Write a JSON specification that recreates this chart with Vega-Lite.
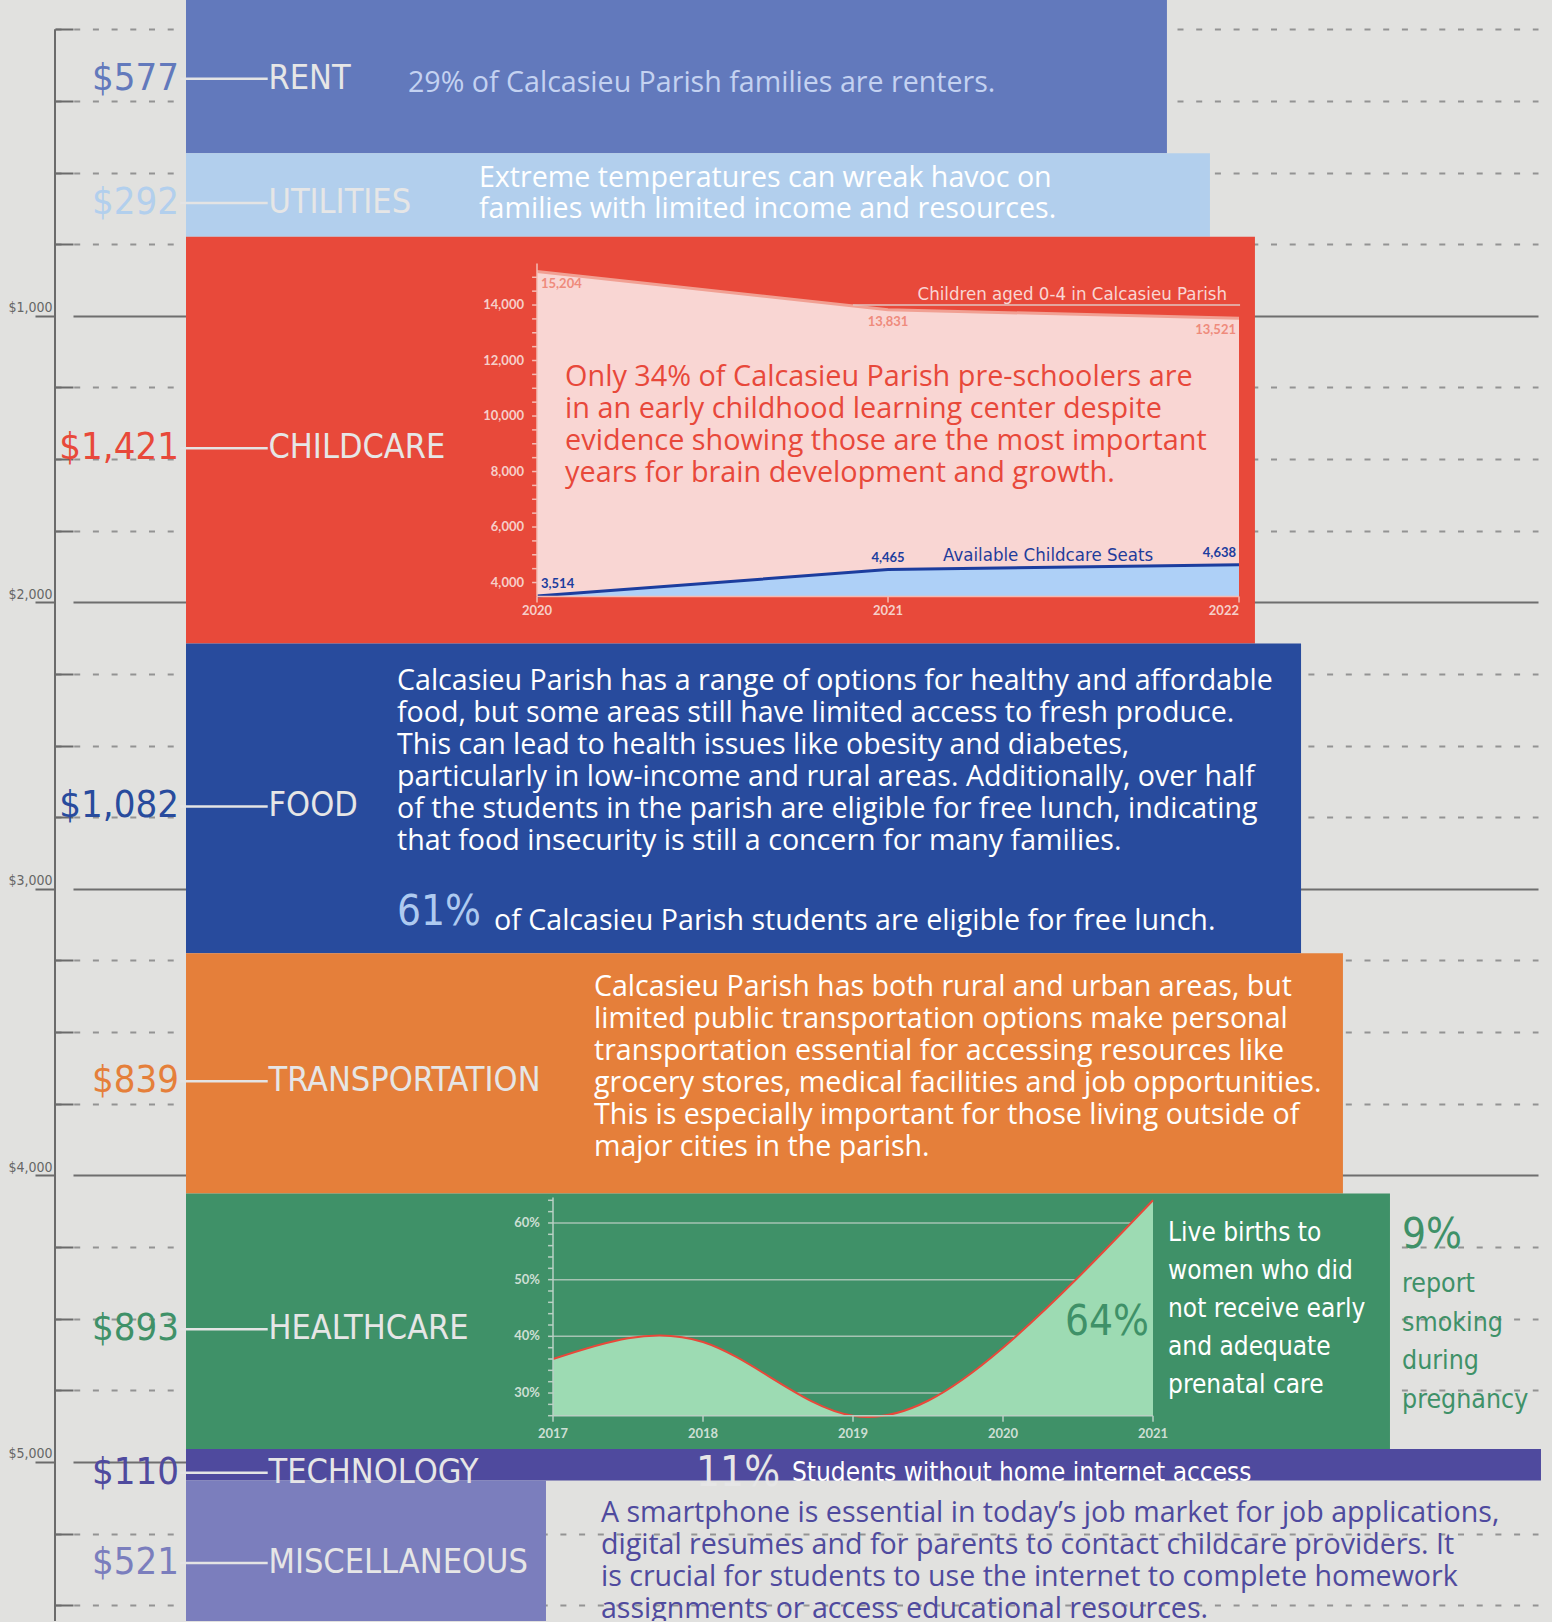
{
  "$schema": "https://vega.github.io/schema/vega-lite/v6.json",
  "width": 1552,
  "height": 1622,
  "autosize": {"type": "fit", "contains": "padding"},
  "padding": 0,
  "background": "#e1e1df",
  "config": {"view": {"stroke": null}},
  "datasets": {
    "costs": [
      {"category": "RENT", "amount": 577, "rank": 1},
      {"category": "UTILITIES", "amount": 292, "rank": 2},
      {"category": "CHILDCARE", "amount": 1421, "rank": 3},
      {"category": "FOOD", "amount": 1082, "rank": 4},
      {"category": "TRANSPORTATION", "amount": 839, "rank": 5},
      {"category": "HEALTHCARE", "amount": 893, "rank": 6},
      {"category": "TECHNOLOGY", "amount": 110, "rank": 7},
      {"category": "MISCELLANEOUS", "amount": 521, "rank": 8}
    ],
    "childcare": [
      {"year": 2020, "series": "children", "value": 15204},
      {"year": 2021, "series": "children", "value": 13831},
      {"year": 2022, "series": "children", "value": 13521},
      {"year": 2020, "series": "seats", "value": 3514},
      {"year": 2021, "series": "seats", "value": 4465},
      {"year": 2022, "series": "seats", "value": 4638}
    ],
    "prenatal": [
      {"year": 2017, "pct": 36},
      {"year": 2018, "pct": 39},
      {"year": 2019, "pct": 26},
      {"year": 2020, "pct": 38},
      {"year": 2021, "pct": 64}
    ]
  },
  "layer": [
    {
      "data": {"values": [{}]},
      "mark": {"type": "rule", "color": "#6b6b6b", "strokeWidth": 2},
      "encoding": {
        "x": {"datum": 0, "type": "quantitative", "scale": {"domain": [0, 1], "range": [55, 1538], "zero": false, "nice": false}, "axis": null},
        "y": {
          "datum": 0, "type": "quantitative",
          "scale": {"domain": [-102.2, 5555.3], "reverse": true, "zero": false, "nice": false},
          "axis": {
            "orient": "left", "offset": -55,
            "values": [0,250,500,750,1000,1250,1500,1750,2000,2250,2500,2750,3000,3250,3500,3750,4000,4250,4500,4750,5000,5250,5500],
            "domain": false, "grid": true,
            "gridColor": {"condition": {"test": "datum.value % 1000 === 0 && datum.value > 0", "value": "#6e6e6e"}, "value": "#939393"},
            "gridDash": {"condition": {"test": "datum.value % 1000 === 0 && datum.value > 0", "value": [0, 18, 3000, 1]}, "value": [6, 12.7]},
            "gridWidth": 2,
            "tickSize": {"condition": {"test": "datum.value % 1000 === 0 && datum.value > 0", "value": 20}, "value": -18},
            "tickColor": "#6b6b6b", "tickWidth": 2,
            "labelExpr": "datum.value % 1000 === 0 && datum.value > 0 ? '$' + format(datum.value, ',') : ''",
            "labelFont": "DejaVu Sans Condensed, sans-serif",
            "labelFontSize": 14, "labelColor": "#666666",
            "labelPadding": -17, "labelBaseline": "alphabetic", "labelOffset": -4,
            "labelOverlap": false, "labelBound": false, "title": null, "zindex": 0
          }
        },
        "y2": {"datum": 5555.3}
      }
    },
    {
      "data": {"name": "costs"},
      "transform": [
        {"stack": "amount", "groupby": [], "sort": [{"field": "rank", "order": "ascending"}], "as": ["cum0", "cum1"]},
        {"calculate": "(datum.cum0 + datum.cum1) / 2", "as": "mid"}
      ],
      "layer": [
        {"transform": [{"filter": "datum.category === 'RENT'"}], "mark": {"type": "bar", "color": "#6279bc", "clip": true},
         "encoding": {"x": {"datum": 11.985, "type": "quantitative", "scale": {"domain": [0, 100], "zero": false, "nice": false}, "axis": null}, "x2": {"datum": 75.19},
                      "y": {"field": "cum0", "type": "quantitative", "scale": {"domain": [41.55, 5705], "reverse": true, "zero": false, "nice": false}, "axis": null}, "y2": {"field": "cum1"}}},
        {"transform": [{"filter": "datum.category === 'UTILITIES'"}], "mark": {"type": "bar", "color": "#b2cfed", "clip": true},
         "encoding": {"x": {"datum": 11.985, "type": "quantitative", "scale": {"domain": [0, 100], "zero": false, "nice": false}, "axis": null}, "x2": {"datum": 77.96},
                      "y": {"field": "cum0", "type": "quantitative", "scale": {"domain": [41.55, 5705], "reverse": true, "zero": false, "nice": false}, "axis": null}, "y2": {"field": "cum1"}}},
        {"transform": [{"filter": "datum.category === 'CHILDCARE'"}], "mark": {"type": "bar", "color": "#e8493a", "clip": true},
         "encoding": {"x": {"datum": 11.985, "type": "quantitative", "scale": {"domain": [0, 100], "zero": false, "nice": false}, "axis": null}, "x2": {"datum": 80.86},
                      "y": {"field": "cum0", "type": "quantitative", "scale": {"domain": [41.55, 5705], "reverse": true, "zero": false, "nice": false}, "axis": null}, "y2": {"field": "cum1"}}},
        {"transform": [{"filter": "datum.category === 'FOOD'"}], "mark": {"type": "bar", "color": "#284b9d", "clip": true},
         "encoding": {"x": {"datum": 11.985, "type": "quantitative", "scale": {"domain": [0, 100], "zero": false, "nice": false}, "axis": null}, "x2": {"datum": 83.83},
                      "y": {"field": "cum0", "type": "quantitative", "scale": {"domain": [41.55, 5705], "reverse": true, "zero": false, "nice": false}, "axis": null}, "y2": {"field": "cum1"}}},
        {"transform": [{"filter": "datum.category === 'TRANSPORTATION'"}], "mark": {"type": "bar", "color": "#e57f3a", "clip": true},
         "encoding": {"x": {"datum": 11.985, "type": "quantitative", "scale": {"domain": [0, 100], "zero": false, "nice": false}, "axis": null}, "x2": {"datum": 86.53},
                      "y": {"field": "cum0", "type": "quantitative", "scale": {"domain": [41.55, 5705], "reverse": true, "zero": false, "nice": false}, "axis": null}, "y2": {"field": "cum1"}}},
        {"transform": [{"filter": "datum.category === 'HEALTHCARE'"}], "mark": {"type": "bar", "color": "#3f9168", "clip": true},
         "encoding": {"x": {"datum": 11.985, "type": "quantitative", "scale": {"domain": [0, 100], "zero": false, "nice": false}, "axis": null}, "x2": {"datum": 89.56},
                      "y": {"field": "cum0", "type": "quantitative", "scale": {"domain": [41.55, 5705], "reverse": true, "zero": false, "nice": false}, "axis": null}, "y2": {"field": "cum1"}}},
        {"transform": [{"filter": "datum.category === 'TECHNOLOGY'"}], "mark": {"type": "bar", "color": "#4f4a9e", "clip": true},
         "encoding": {"x": {"datum": 11.985, "type": "quantitative", "scale": {"domain": [0, 100], "zero": false, "nice": false}, "axis": null}, "x2": {"datum": 99.29},
                      "y": {"field": "cum0", "type": "quantitative", "scale": {"domain": [41.55, 5705], "reverse": true, "zero": false, "nice": false}, "axis": null}, "y2": {"field": "cum1"}}},
        {"transform": [{"filter": "datum.category === 'MISCELLANEOUS'"}], "mark": {"type": "bar", "color": "#7b7ebd", "clip": true},
         "encoding": {"x": {"datum": 11.985, "type": "quantitative", "scale": {"domain": [0, 100], "zero": false, "nice": false}, "axis": null}, "x2": {"datum": 35.18},
                      "y": {"field": "cum0", "type": "quantitative", "scale": {"domain": [41.55, 5705], "reverse": true, "zero": false, "nice": false}, "axis": null}, "y2": {"field": "cum1"}}},
        {"mark": {"type": "rule", "color": "#e4e4e4", "strokeWidth": 2.5, "yOffset": 8},
         "encoding": {"x": {"datum": 11.6, "type": "quantitative", "scale": {"domain": [0, 100], "zero": false, "nice": false}, "axis": null}, "x2": {"datum": 17.25},
                      "y": {"field": "mid", "type": "quantitative", "scale": {"domain": [41.55, 5705], "reverse": true, "zero": false, "nice": false}, "axis": null}}},
        {"mark": {"type": "text", "align": "right", "baseline": "middle", "font": "DejaVu Sans Condensed, sans-serif", "fontSize": 38, "yOffset": 8},
         "encoding": {"x": {"datum": 11.53, "type": "quantitative", "scale": {"domain": [0, 100], "zero": false, "nice": false}, "axis": null},
                      "y": {"field": "mid", "type": "quantitative", "scale": {"domain": [41.55, 5705], "reverse": true, "zero": false, "nice": false}, "axis": null},
                      "text": {"field": "amount", "type": "quantitative", "format": "$,"},
                      "color": {"field": "category", "type": "nominal", "legend": null,
                                "scale": {"domain": ["RENT","UTILITIES","CHILDCARE","FOOD","TRANSPORTATION","HEALTHCARE","TECHNOLOGY","MISCELLANEOUS"],
                                          "range": ["#6279bc","#b2cfed","#e8493a","#284b9d","#e57f3a","#3f9168","#4f4a9e","#7b7ebd"]}}}},
        {"mark": {"type": "text", "align": "left", "baseline": "middle", "font": "DejaVu Sans Condensed, sans-serif", "fontSize": 34, "color": "#e6e6e6", "yOffset": 8},
         "encoding": {"x": {"datum": 17.3, "type": "quantitative", "scale": {"domain": [0, 100], "zero": false, "nice": false}, "axis": null},
                      "y": {"field": "mid", "type": "quantitative", "scale": {"domain": [41.55, 5705], "reverse": true, "zero": false, "nice": false}, "axis": null},
                      "text": {"field": "category"}}},
        {"data": {"values": [{}]}, "mark": {"type": "text", "text": "29% of Calcasieu Parish families are renters.", "align": "left", "baseline": "middle", "font": "Open Sans, Lato, sans-serif", "fontSize": 28.6, "color": "#c4d2f1"},
         "encoding": {"x": {"datum": 26.29, "type": "quantitative", "scale": {"domain": [0, 100], "zero": false, "nice": false}, "axis": null},
                      "y": {"datum": 331.4, "type": "quantitative", "scale": {"domain": [41.55, 5705], "reverse": true, "zero": false, "nice": false}, "axis": null}}},
        {"data": {"values": [{}]}, "mark": {"type": "text", "text": ["Extreme temperatures can wreak havoc on", "families with limited income and resources."], "align": "left", "baseline": "middle", "font": "Open Sans, Lato, sans-serif", "fontSize": 28.6, "lineHeight": 31, "color": "#ffffff"},
         "encoding": {"x": {"datum": 30.86, "type": "quantitative", "scale": {"domain": [0, 100], "zero": false, "nice": false}, "axis": null},
                      "y": {"datum": 663.1, "type": "quantitative", "scale": {"domain": [41.55, 5705], "reverse": true, "zero": false, "nice": false}, "axis": null}}},
        {"data": {"values": [{}]}, "mark": {"type": "text", "text": ["Calcasieu Parish has a range of options for healthy and affordable", "food, but some areas still have limited access to fresh produce.", "This can lead to health issues like obesity and diabetes,", "particularly in low-income and rural areas. Additionally, over half", "of the students in the parish are eligible for free lunch, indicating", "that food insecurity is still a concern for many families."], "align": "left", "baseline": "middle", "font": "Open Sans, Lato, sans-serif", "fontSize": 28.6, "lineHeight": 32, "color": "#ffffff"},
         "encoding": {"x": {"datum": 25.58, "type": "quantitative", "scale": {"domain": [0, 100], "zero": false, "nice": false}, "axis": null},
                      "y": {"datum": 2419.3, "type": "quantitative", "scale": {"domain": [41.55, 5705], "reverse": true, "zero": false, "nice": false}, "axis": null}}},
        {"data": {"values": [{}]}, "mark": {"type": "text", "text": "61%", "align": "left", "baseline": "middle", "font": "DejaVu Sans Condensed, sans-serif", "fontSize": 42, "color": "#aecaf0"},
         "encoding": {"x": {"datum": 25.58, "type": "quantitative", "scale": {"domain": [0, 100], "zero": false, "nice": false}, "axis": null},
                      "y": {"datum": 3229.4, "type": "quantitative", "scale": {"domain": [41.55, 5705], "reverse": true, "zero": false, "nice": false}, "axis": null}}},
        {"data": {"values": [{}]}, "mark": {"type": "text", "text": "of Calcasieu Parish students are eligible for free lunch.", "align": "left", "baseline": "middle", "font": "Open Sans, Lato, sans-serif", "fontSize": 28.6, "color": "#ffffff"},
         "encoding": {"x": {"datum": 31.83, "type": "quantitative", "scale": {"domain": [0, 100], "zero": false, "nice": false}, "axis": null},
                      "y": {"datum": 3260.8, "type": "quantitative", "scale": {"domain": [41.55, 5705], "reverse": true, "zero": false, "nice": false}, "axis": null}}},
        {"data": {"values": [{}]}, "mark": {"type": "text", "text": ["Calcasieu Parish has both rural and urban areas, but", "limited public transportation options make personal", "transportation essential for accessing resources like", "grocery stores, medical facilities and job opportunities.", "This is especially important for those living outside of", "major cities in the parish."], "align": "left", "baseline": "middle", "font": "Open Sans, Lato, sans-serif", "fontSize": 28.6, "lineHeight": 32, "color": "#ffffff"},
         "encoding": {"x": {"datum": 38.27, "type": "quantitative", "scale": {"domain": [0, 100], "zero": false, "nice": false}, "axis": null},
                      "y": {"datum": 3491.3, "type": "quantitative", "scale": {"domain": [41.55, 5705], "reverse": true, "zero": false, "nice": false}, "axis": null}}},
        {"data": {"values": [{}]}, "mark": {"type": "text", "text": ["Live births to", "women who did", "not receive early", "and adequate", "prenatal care"], "align": "left", "baseline": "middle", "font": "DejaVu Sans Condensed, sans-serif", "fontSize": 26, "lineHeight": 38, "color": "#ffffff"},
         "encoding": {"x": {"datum": 75.26, "type": "quantitative", "scale": {"domain": [0, 100], "zero": false, "nice": false}, "axis": null},
                      "y": {"datum": 4350.2, "type": "quantitative", "scale": {"domain": [41.55, 5705], "reverse": true, "zero": false, "nice": false}, "axis": null}}},
        {"data": {"values": [{}]}, "mark": {"type": "text", "text": "9%", "align": "left", "baseline": "middle", "font": "DejaVu Sans Condensed, sans-serif", "fontSize": 42, "color": "#3f9168"},
         "encoding": {"x": {"datum": 90.34, "type": "quantitative", "scale": {"domain": [0, 100], "zero": false, "nice": false}, "axis": null},
                      "y": {"datum": 4357.2, "type": "quantitative", "scale": {"domain": [41.55, 5705], "reverse": true, "zero": false, "nice": false}, "axis": null}}},
        {"data": {"values": [{}]}, "mark": {"type": "text", "text": ["report", "smoking", "during", "pregnancy"], "align": "left", "baseline": "middle", "font": "DejaVu Sans Condensed, sans-serif", "fontSize": 26.5, "lineHeight": 38.5, "color": "#3f9168"},
         "encoding": {"x": {"datum": 90.34, "type": "quantitative", "scale": {"domain": [0, 100], "zero": false, "nice": false}, "axis": null},
                      "y": {"datum": 4528.3, "type": "quantitative", "scale": {"domain": [41.55, 5705], "reverse": true, "zero": false, "nice": false}, "axis": null}}},
        {"data": {"values": [{}]}, "mark": {"type": "text", "text": "11%", "align": "left", "baseline": "middle", "font": "DejaVu Sans Condensed, sans-serif", "fontSize": 42, "color": "#e6e6e6"},
         "encoding": {"x": {"datum": 44.85, "type": "quantitative", "scale": {"domain": [0, 100], "zero": false, "nice": false}, "axis": null},
                      "y": {"datum": 5188.2, "type": "quantitative", "scale": {"domain": [41.55, 5705], "reverse": true, "zero": false, "nice": false}, "axis": null}}},
        {"data": {"values": [{}]}, "mark": {"type": "text", "text": "Students without home internet access", "align": "left", "baseline": "middle", "font": "DejaVu Sans Condensed, sans-serif", "fontSize": 26, "color": "#ffffff"},
         "encoding": {"x": {"datum": 51.03, "type": "quantitative", "scale": {"domain": [0, 100], "zero": false, "nice": false}, "axis": null},
                      "y": {"datum": 5188.2, "type": "quantitative", "scale": {"domain": [41.55, 5705], "reverse": true, "zero": false, "nice": false}, "axis": null}}},
        {"data": {"values": [{}]}, "mark": {"type": "text", "text": ["A smartphone is essential in today’s job market for job applications,", "digital resumes and for parents to contact childcare providers. It", "is crucial for students to use the internet to complete homework", "assignments or access educational resources."], "align": "left", "baseline": "middle", "font": "Open Sans, Lato, sans-serif", "fontSize": 28.6, "lineHeight": 32, "color": "#4f4a9e", "clip": true},
         "encoding": {"x": {"datum": 38.72, "type": "quantitative", "scale": {"domain": [0, 100], "zero": false, "nice": false}, "axis": null},
                      "y": {"datum": 5327.9, "type": "quantitative", "scale": {"domain": [41.55, 5705], "reverse": true, "zero": false, "nice": false}, "axis": null}}}
      ]
    },
    {
      "data": {"name": "childcare"},
      "layer": [
        {"transform": [{"filter": "datum.series === 'children'"}],
         "mark": {"type": "area", "color": "#f9d6d3", "opacity": 1, "line": {"color": "#f1a093", "strokeWidth": 3}},
         "encoding": {
           "x": {"field": "year", "type": "quantitative", "scale": {"domain": [2020, 2022], "range": [537, 1239], "zero": false, "nice": false}, "axis": null},
           "y": {"field": "value", "type": "quantitative", "scale": {"domain": [3500, 15500], "range": [596.4, 263.4], "zero": false, "nice": false}, "axis": null},
           "y2": {"datum": 3500}
         }},
        {"transform": [{"filter": "datum.series === 'seats'"}],
         "mark": {"type": "area", "color": "#aed0f7", "opacity": 1, "line": {"color": "#1c3d9e", "strokeWidth": 3}},
         "encoding": {
           "x": {"field": "year", "type": "quantitative", "scale": {"domain": [2020, 2022], "range": [537, 1239], "zero": false, "nice": false}, "axis": null},
           "y": {"field": "value", "type": "quantitative", "scale": {"domain": [3500, 15500], "range": [596.4, 263.4], "zero": false, "nice": false}, "axis": null},
           "y2": {"datum": 3500}}},
        {"mark": {"type": "text", "font": "Lato, Open Sans, sans-serif", "fontWeight": "bold", "fontSize": 13,
                  "align": {"expr": "datum.year === 2020 ? 'left' : datum.year === 2022 ? 'right' : 'center'"},
                  "baseline": {"expr": "datum.series === 'children' ? 'top' : 'bottom'"},
                  "dx": {"expr": "datum.year === 2020 ? 4 : datum.year === 2022 ? -3 : 0"},
                  "dy": {"expr": "datum.series === 'children' ? 6 : -5"}},
         "encoding": {"x": {"field": "year", "type": "quantitative", "scale": {"domain": [2020, 2022], "range": [537, 1239], "zero": false, "nice": false}, "axis": null},
                      "y": {"field": "value", "type": "quantitative", "scale": {"domain": [3500, 15500], "range": [596.4, 263.4], "zero": false, "nice": false}, "axis": null},
                      "text": {"field": "value", "type": "quantitative", "format": ","},
                      "color": {"field": "series", "type": "nominal", "legend": null, "scale": {"domain": ["children", "seats"], "range": ["#ef8b7c", "#1c3d9e"]}}}},
        {"data": {"values": [{}]}, "mark": {"type": "rule", "color": "#e2c4c0", "strokeWidth": 1.5},
         "encoding": {"x": {"datum": 2020.9, "type": "quantitative", "scale": {"domain": [2020, 2022], "range": [537, 1239], "zero": false, "nice": false}, "axis": null}, "x2": {"datum": 2022.003},
                      "y": {"datum": 14000, "type": "quantitative", "scale": {"domain": [3500, 15500], "range": [596.4, 263.4], "zero": false, "nice": false}, "axis": null}}},
        {"data": {"values": [{}]}, "mark": {"type": "text", "text": "Children aged 0-4 in Calcasieu Parish", "align": "right", "baseline": "alphabetic", "font": "DejaVu Sans Condensed, sans-serif", "fontSize": 18.5, "color": "#f9d6d3"},
         "encoding": {"x": {"datum": 2021.966, "type": "quantitative", "scale": {"domain": [2020, 2022], "range": [537, 1239], "zero": false, "nice": false}, "axis": null},
                      "y": {"datum": 14180, "type": "quantitative", "scale": {"domain": [3500, 15500], "range": [596.4, 263.4], "zero": false, "nice": false}, "axis": null}}},
        {"data": {"values": [{}]}, "mark": {"type": "text", "text": "Available Childcare Seats", "align": "left", "baseline": "alphabetic", "font": "DejaVu Sans Condensed, sans-serif", "fontSize": 18.5, "color": "#1f3c9b"},
         "encoding": {"x": {"datum": 2021.157, "type": "quantitative", "scale": {"domain": [2020, 2022], "range": [537, 1239], "zero": false, "nice": false}, "axis": null},
                      "y": {"datum": 4775, "type": "quantitative", "scale": {"domain": [3500, 15500], "range": [596.4, 263.4], "zero": false, "nice": false}, "axis": null}}},
        {"data": {"values": [{}]}, "mark": {"type": "text", "text": ["Only 34% of Calcasieu Parish pre-schoolers are", "in an early childhood learning center despite", "evidence showing those are the most important", "years for brain development and growth."], "align": "left", "baseline": "middle", "font": "Open Sans, Lato, sans-serif", "fontSize": 28.8, "lineHeight": 32, "color": "#e8483a"},
         "encoding": {"x": {"datum": 2020.08, "type": "quantitative", "scale": {"domain": [2020, 2022], "range": [537, 1239], "zero": false, "nice": false}, "axis": null},
                      "y": {"datum": 11405, "type": "quantitative", "scale": {"domain": [3500, 15500], "range": [596.4, 263.4], "zero": false, "nice": false}, "axis": null}}},
        {"data": {"values": [{}]}, "mark": {"type": "rule", "color": "#f3bcb4", "strokeWidth": 1.5},
         "encoding": {"x": {"datum": 2020, "type": "quantitative", "scale": {"domain": [2020, 2022], "range": [537, 1239], "zero": false, "nice": false}, "axis": null},
                      "y": {"datum": 3500, "type": "quantitative", "scale": {"domain": [3500, 15500], "range": [596.4, 263.4], "zero": false, "nice": false}, "axis": null}, "y2": {"datum": 15500}}},
        {"data": {"values": [{"v": 4000}, {"v": 4500}, {"v": 5000}, {"v": 5500}, {"v": 6000}, {"v": 6500}, {"v": 7000}, {"v": 7500}, {"v": 8000}, {"v": 8500}, {"v": 9000}, {"v": 9500}, {"v": 10000}, {"v": 10500}, {"v": 11000}, {"v": 11500}, {"v": 12000}, {"v": 12500}, {"v": 13000}, {"v": 13500}, {"v": 14000}, {"v": 14500}, {"v": 15000}]},
         "mark": {"type": "rule", "color": "#f3bcb4", "strokeWidth": 1.5},
         "encoding": {"x": {"datum": 2019.986, "type": "quantitative", "scale": {"domain": [2020, 2022], "range": [537, 1239], "zero": false, "nice": false}, "axis": null}, "x2": {"datum": 2020},
                      "y": {"field": "v", "type": "quantitative", "scale": {"domain": [3500, 15500], "range": [596.4, 263.4], "zero": false, "nice": false}, "axis": null}}},
        {"data": {"values": [{"v": 4000}, {"v": 6000}, {"v": 8000}, {"v": 10000}, {"v": 12000}, {"v": 14000}]},
         "mark": {"type": "text", "align": "right", "baseline": "middle", "dx": -13, "font": "Lato, Open Sans, sans-serif", "fontWeight": "bold", "fontSize": 13, "color": "#f6cfc9"},
         "encoding": {"x": {"datum": 2020, "type": "quantitative", "scale": {"domain": [2020, 2022], "range": [537, 1239], "zero": false, "nice": false}, "axis": null},
                      "y": {"field": "v", "type": "quantitative", "scale": {"domain": [3500, 15500], "range": [596.4, 263.4], "zero": false, "nice": false}, "axis": null},
                      "text": {"field": "v", "type": "quantitative", "format": ","}}},
        {"data": {"values": [{}]}, "mark": {"type": "rule", "color": "#f3bcb4", "strokeWidth": 1.5},
         "encoding": {"x": {"datum": 2020, "type": "quantitative", "scale": {"domain": [2020, 2022], "range": [537, 1239], "zero": false, "nice": false}, "axis": null}, "x2": {"datum": 2022},
                      "y": {"datum": 3500, "type": "quantitative", "scale": {"domain": [3500, 15500], "range": [596.4, 263.4], "zero": false, "nice": false}, "axis": null}}},
        {"transform": [{"filter": "datum.series === 'children'"}],
         "mark": {"type": "rule", "color": "#f3bcb4", "strokeWidth": 1.5},
         "encoding": {"x": {"field": "year", "type": "quantitative", "scale": {"domain": [2020, 2022], "range": [537, 1239], "zero": false, "nice": false}, "axis": null},
                      "y": {"datum": 3500, "type": "quantitative", "scale": {"domain": [3500, 15500], "range": [596.4, 263.4], "zero": false, "nice": false}, "axis": null}, "y2": {"datum": 3284}}},
        {"transform": [{"filter": "datum.series === 'children'"}],
         "mark": {"type": "text", "baseline": "middle", "dy": 15, "font": "Lato, Open Sans, sans-serif", "fontWeight": "bold", "fontSize": 13, "color": "#f6cfc9",
                  "align": {"expr": "datum.year === 2022 ? 'right' : 'center'"}},
         "encoding": {"x": {"field": "year", "type": "quantitative", "scale": {"domain": [2020, 2022], "range": [537, 1239], "zero": false, "nice": false}, "axis": null},
                      "y": {"datum": 3500, "type": "quantitative", "scale": {"domain": [3500, 15500], "range": [596.4, 263.4], "zero": false, "nice": false}, "axis": null},
                      "text": {"field": "year", "type": "quantitative", "format": "d"}}}
      ]
    },
    {
      "data": {"name": "prenatal"},
      "layer": [
        {"data": {"values": [{"v": 30, "label": "30%"}, {"v": 40, "label": "40%"}, {"v": 50, "label": "50%"}, {"v": 60, "label": "60%"}]},
         "mark": {"type": "rule", "color": "#a6c3b3", "strokeWidth": 1.5},
         "encoding": {"x": {"datum": 2017, "type": "quantitative", "scale": {"domain": [2017, 2021], "range": [553, 1153], "zero": false, "nice": false}, "axis": null}, "x2": {"datum": 2021},
                      "y": {"field": "v", "type": "quantitative", "scale": {"domain": [26, 64], "range": [1415.7, 1200.3], "zero": false, "nice": false}, "axis": null}}},
        {"mark": {"type": "area", "interpolate": "natural", "color": "#9ddbb3", "opacity": 1, "line": {"color": "#e8483a", "strokeWidth": 2}},
         "encoding": {
           "x": {"field": "year", "type": "quantitative", "scale": {"domain": [2017, 2021], "range": [553, 1153], "zero": false, "nice": false}, "axis": null},
           "y": {"field": "pct", "type": "quantitative", "scale": {"domain": [26, 64], "range": [1415.7, 1200.3], "zero": false, "nice": false}, "axis": null},
           "y2": {"datum": 26}
         }},
        {"data": {"values": [{}]}, "mark": {"type": "text", "text": "64%", "align": "right", "baseline": "middle", "font": "DejaVu Sans Condensed, sans-serif", "fontSize": 42, "color": "#3f9168"},
         "encoding": {"x": {"datum": 2020.973, "type": "quantitative", "scale": {"domain": [2017, 2021], "range": [553, 1153], "zero": false, "nice": false}, "axis": null},
                      "y": {"datum": 42.5, "type": "quantitative", "scale": {"domain": [26, 64], "range": [1415.7, 1200.3], "zero": false, "nice": false}, "axis": null}}},
        {"data": {"values": [{}]}, "mark": {"type": "rule", "color": "#b9d1c4", "strokeWidth": 1.5},
         "encoding": {"x": {"datum": 2017, "type": "quantitative", "scale": {"domain": [2017, 2021], "range": [553, 1153], "zero": false, "nice": false}, "axis": null},
                      "y": {"datum": 26, "type": "quantitative", "scale": {"domain": [26, 64], "range": [1415.7, 1200.3], "zero": false, "nice": false}, "axis": null}, "y2": {"datum": 64.5}}},
        {"data": {"values": [{"v": 26}, {"v": 28}, {"v": 30}, {"v": 32}, {"v": 34}, {"v": 36}, {"v": 38}, {"v": 40}, {"v": 42}, {"v": 44}, {"v": 46}, {"v": 48}, {"v": 50}, {"v": 52}, {"v": 54}, {"v": 56}, {"v": 58}, {"v": 60}, {"v": 62}, {"v": 64}]},
         "mark": {"type": "rule", "color": "#b9d1c4", "strokeWidth": 1.5},
         "encoding": {"x": {"datum": 2016.967, "type": "quantitative", "scale": {"domain": [2017, 2021], "range": [553, 1153], "zero": false, "nice": false}, "axis": null}, "x2": {"datum": 2017},
                      "y": {"field": "v", "type": "quantitative", "scale": {"domain": [26, 64], "range": [1415.7, 1200.3], "zero": false, "nice": false}, "axis": null}}},
        {"data": {"values": [{"v": 30, "label": "30%"}, {"v": 40, "label": "40%"}, {"v": 50, "label": "50%"}, {"v": 60, "label": "60%"}]},
         "mark": {"type": "text", "align": "right", "baseline": "middle", "dx": -13, "font": "Lato, Open Sans, sans-serif", "fontWeight": "bold", "fontSize": 13, "color": "#cddfd4"},
         "encoding": {"x": {"datum": 2017, "type": "quantitative", "scale": {"domain": [2017, 2021], "range": [553, 1153], "zero": false, "nice": false}, "axis": null},
                      "y": {"field": "v", "type": "quantitative", "scale": {"domain": [26, 64], "range": [1415.7, 1200.3], "zero": false, "nice": false}, "axis": null},
                      "text": {"field": "label"}}},
        {"data": {"values": [{}]}, "mark": {"type": "rule", "color": "#b9d1c4", "strokeWidth": 1.5},
         "encoding": {"x": {"datum": 2017, "type": "quantitative", "scale": {"domain": [2017, 2021], "range": [553, 1153], "zero": false, "nice": false}, "axis": null}, "x2": {"datum": 2021},
                      "y": {"datum": 26, "type": "quantitative", "scale": {"domain": [26, 64], "range": [1415.7, 1200.3], "zero": false, "nice": false}, "axis": null}}},
        {"mark": {"type": "rule", "color": "#b9d1c4", "strokeWidth": 1.5},
         "encoding": {"x": {"field": "year", "type": "quantitative", "scale": {"domain": [2017, 2021], "range": [553, 1153], "zero": false, "nice": false}, "axis": null},
                      "y": {"datum": 26, "type": "quantitative", "scale": {"domain": [26, 64], "range": [1415.7, 1200.3], "zero": false, "nice": false}, "axis": null}, "y2": {"datum": 24.94}}},
        {"mark": {"type": "text", "align": "center", "baseline": "middle", "dy": 18, "font": "Lato, Open Sans, sans-serif", "fontWeight": "bold", "fontSize": 13, "color": "#cddfd4"},
         "encoding": {"x": {"field": "year", "type": "quantitative", "scale": {"domain": [2017, 2021], "range": [553, 1153], "zero": false, "nice": false}, "axis": null},
                      "y": {"datum": 26, "type": "quantitative", "scale": {"domain": [26, 64], "range": [1415.7, 1200.3], "zero": false, "nice": false}, "axis": null},
                      "text": {"field": "year", "type": "quantitative", "format": "d"}}}
      ]
    }
  ],
  "resolve": {"scale": {"x": "independent", "y": "independent", "color": "independent"}}
}
